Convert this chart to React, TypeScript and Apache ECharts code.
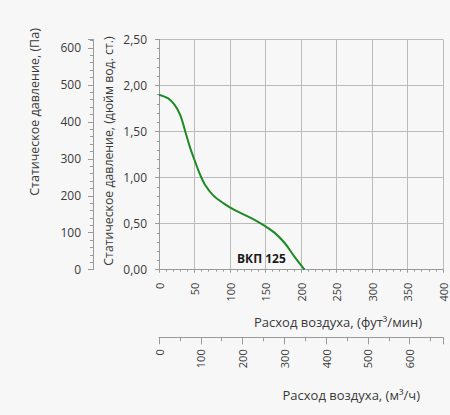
import React, { useEffect, useRef } from "react";
import * as echarts from "echarts";

const airflowCfm = [0, 13, 22, 30, 37, 44, 51, 58, 65, 76, 91, 106, 130, 149, 163, 177, 191, 205];
const pressureInH2O = [1.9, 1.86, 1.79, 1.68, 1.5, 1.32, 1.17, 1.03, 0.92, 0.81, 0.72, 0.65, 0.56, 0.475, 0.4, 0.29, 0.14, 0.0];
const seriesName = "ВКП 125";
const yNameIn = "Статическое давление, (дюйм вод. ст.)";
const yNamePa = "Статическое давление, (Па)";
const xNameCfm = "Расход воздуха, (фут³/мин)";
const xNameM3h = "Расход воздуха, (м³/ч)";

const IN_MAX = 2.5;
const CFM_MAX = 400;
const PA_PER_IN = 249.089;
const M3H_PER_CFM = 1.699;

const FONT = "'Open Sans', 'DejaVu Sans', sans-serif";
const TXT = "#3a3a3a";
const AXIS = "#9a9a9a";

export default function App() {
  const ref = useRef<HTMLDivElement>(null);
  useEffect(() => {
    document.body.style.margin = "0";
    const chart = echarts.init(ref.current!, null, { renderer: "svg" });
    const data = airflowCfm.map((x, i) => [x, pressureInH2O[i]]);
    const axisLine = { show: true, onZero: false, lineStyle: { color: AXIS, width: 1 } };
    chart.setOption({
      animation: false,
      backgroundColor: "#f7f7f7",
      grid: { left: 159, right: 7, top: 39.5, bottom: 145.3 },
      xAxis: [
        {
          type: "value",
          position: "bottom",
          min: 0,
          max: CFM_MAX,
          interval: 50,
          axisLine,
          axisTick: { show: true, length: 3, lineStyle: { color: AXIS } },
          minorTick: { show: true, splitNumber: 5, length: 2, lineStyle: { color: AXIS } },
          splitLine: { show: true, lineStyle: { color: "#bbbbbb", width: 1 } },
          axisLabel: { rotate: 90, margin: 13, fontSize: 11, color: TXT, fontFamily: FONT },
        },
        {
          type: "value",
          position: "bottom",
          offset: 67.6,
          min: 0,
          max: CFM_MAX * M3H_PER_CFM,
          interval: 100,
          axisLine,
          axisTick: { show: true, length: 7, lineStyle: { color: AXIS } },
          minorTick: { show: true, splitNumber: 2, length: 4, lineStyle: { color: AXIS } },
          splitLine: { show: false },
          axisLabel: { rotate: 90, margin: 12, fontSize: 11, color: TXT, fontFamily: FONT, showMaxLabel: false },
        },
      ],
      yAxis: [
        {
          type: "value",
          position: "left",
          min: 0,
          max: IN_MAX,
          interval: 0.5,
          axisLine,
          axisTick: { show: true, length: 4, lineStyle: { color: AXIS } },
          minorTick: { show: true, splitNumber: 5, length: 2, lineStyle: { color: AXIS } },
          splitLine: { show: true, lineStyle: { color: "#bbbbbb", width: 1 } },
          axisLabel: {
            margin: 12,
            fontSize: 12,
            color: TXT,
            fontFamily: FONT,
            formatter: (v: number) => v.toFixed(2).replace(".", ","),
          },
        },
        {
          type: "value",
          position: "left",
          offset: 66,
          min: 0,
          max: IN_MAX * PA_PER_IN,
          interval: 100,
          axisLine,
          axisTick: { show: true, length: 5, lineStyle: { color: AXIS } },
          minorTick: { show: true, splitNumber: 5, length: 3, lineStyle: { color: AXIS } },
          splitLine: { show: false },
          axisLabel: { margin: 12, fontSize: 12, color: TXT, fontFamily: FONT, showMaxLabel: false },
        },
      ],
      series: [
        {
          name: seriesName,
          type: "line",
          xAxisIndex: 0,
          yAxisIndex: 0,
          data,
          smooth: 0.35,
          showSymbol: false,
          lineStyle: { color: "#1e8a24", width: 2 },
        },
      ],
      graphic: [
        {
          type: "text",
          x: 237,
          y: 258,
          style: { text: seriesName, font: `bold 12px ${FONT}`, fill: "#1a1a1a", textVerticalAlign: "middle" },
        },
        {
          type: "text",
          x: 108,
          y: 151,
          rotation: Math.PI / 2,
          style: { text: yNameIn, font: `12.3px ${FONT}`, fill: TXT, textAlign: "center", textVerticalAlign: "middle" },
        },
        {
          type: "text",
          x: 34,
          y: 112,
          rotation: Math.PI / 2,
          style: { text: yNamePa, font: `12.5px ${FONT}`, fill: TXT, textAlign: "center", textVerticalAlign: "middle" },
        },
        {
          type: "text",
          x: 422,
          y: 321.5,
          style: { text: xNameCfm, font: `13px ${FONT}`, fill: TXT, textAlign: "right", textVerticalAlign: "middle" },
        },
        {
          type: "text",
          x: 420,
          y: 395,
          style: { text: xNameM3h, font: `13px ${FONT}`, fill: TXT, textAlign: "right", textVerticalAlign: "middle" },
        },
      ],
    });
    return () => chart.dispose();
  }, []);
  return <div ref={ref} style={{ width: 450, height: 415 }} />;
}
